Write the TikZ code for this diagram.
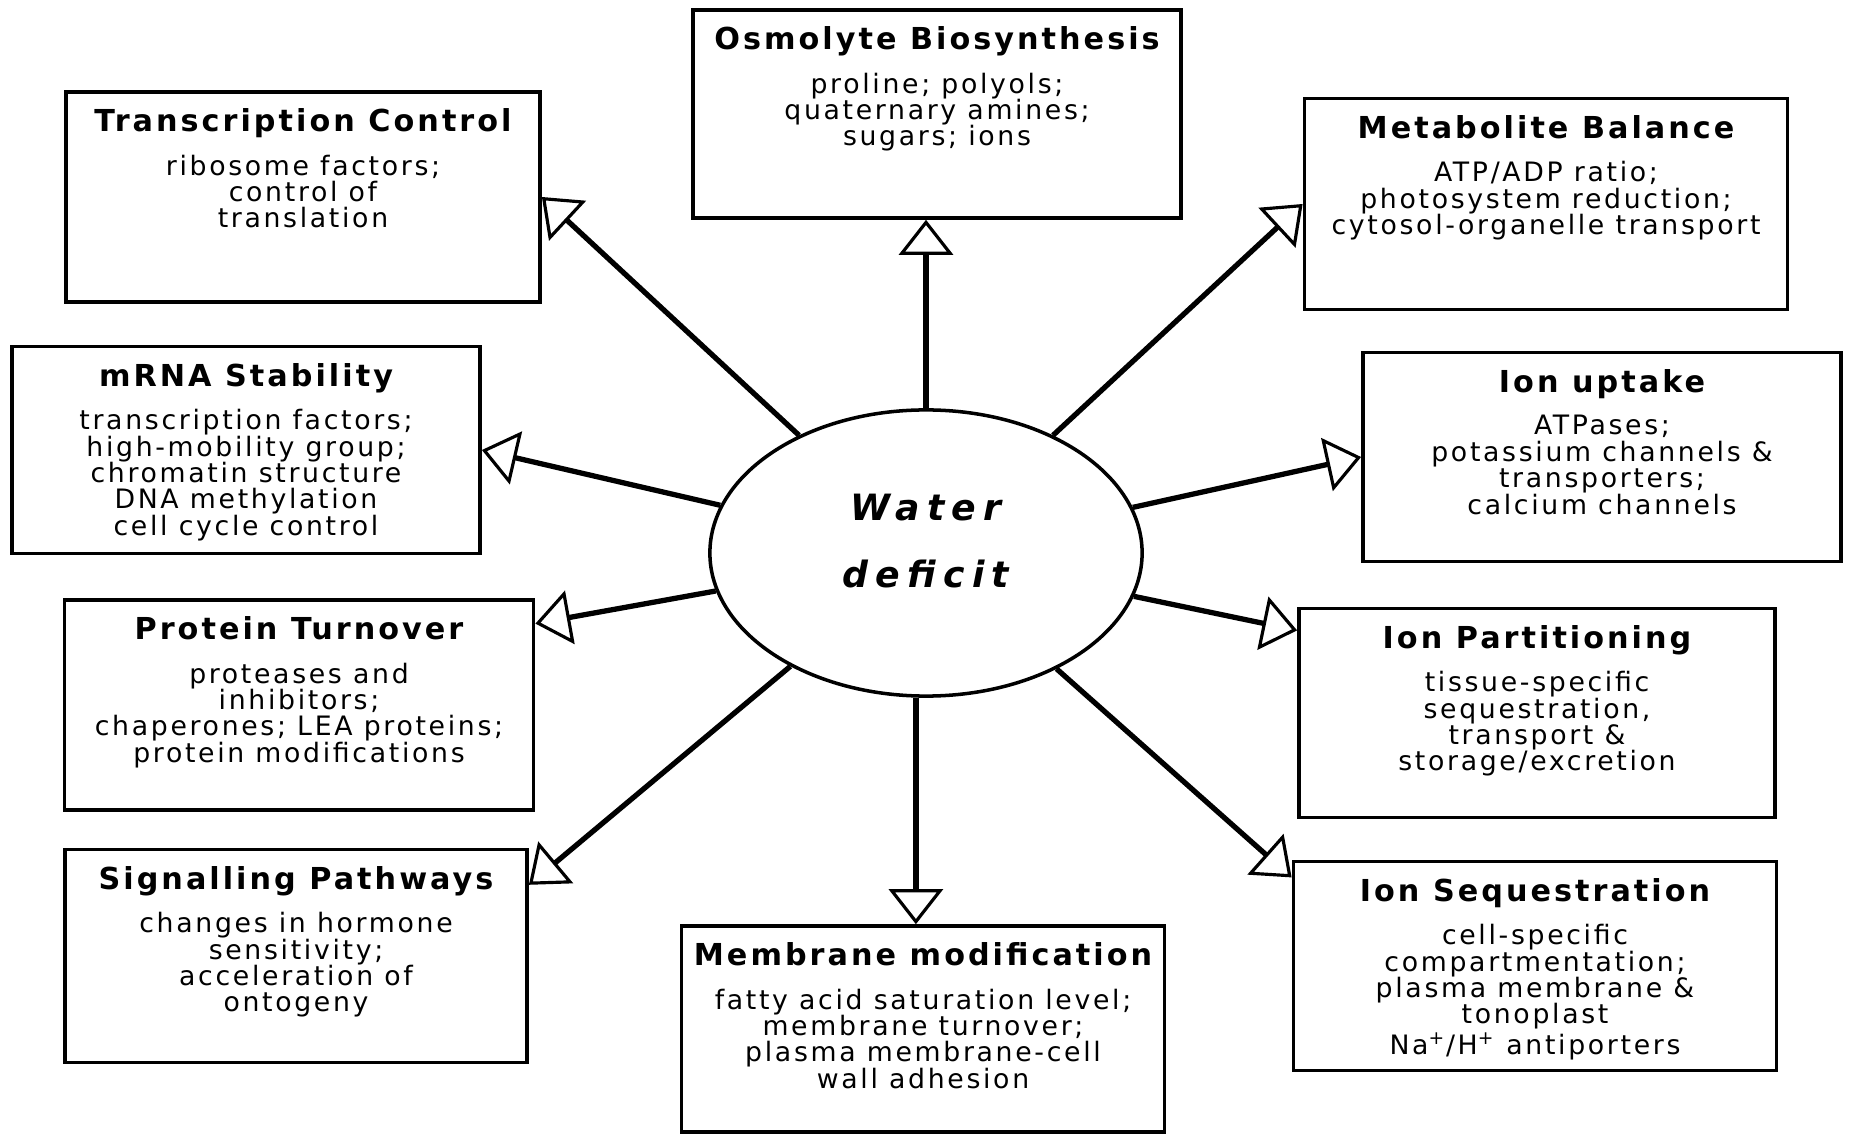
\documentclass[tikz,border=0pt]{standalone}
\usepackage{fontspec}
\setmainfont{DejaVu Sans}
\newfontfamily\boxfont[LetterSpace=10]{DejaVu Sans}
\newfontfamily\waterfont[LetterSpace=20]{DejaVu Sans}
\usetikzlibrary{positioning,arrows.meta,shapes.geometric}
\tikzset{
  effectarrow/.style={-{Triangle[open, length=0.35cm, width=0.54cm, line width=0.9pt]}, line width=1.5pt},
  effectbox/.style={draw, line width=1pt, minimum width=4.78cm, minimum height=2.09cm, inner sep=0pt},
  boxtitle/.style={font=\boxfont\bfseries\fontsize{8.6}{9}\selectfont, inner sep=0pt},
  boxbody/.style={font=\boxfont\fontsize{7.6}{7.5}\selectfont, align=center, inner sep=0pt},
  waternode/.style={draw, ellipse, line width=1pt, minimum width=4.32cm, minimum height=2.86cm, align=center, text depth=0.24cm,
    font=\waterfont\bfseries\itshape\fontsize{10.3}{19}\selectfont}
}

\begin{document}
\begin{tikzpicture}[x=0.01cm, y=-0.01cm]
  \useasboundingbox (0,0) rectangle (1849,1134);

  % centre
  \node[waternode] (water) at (926,553) {Water\\deficit};

  % boxes
  \node[effectbox, minimum width=4.74cm, minimum height=2.10cm] (trans) at (303,197) {};
  \node[effectbox, minimum width=4.88cm, minimum height=2.08cm] (osmo) at (937,114) {};
  \node[effectbox, minimum width=4.83cm, minimum height=2.11cm] (metab) at (1546,204) {};
  \node[effectbox, minimum width=4.68cm, minimum height=2.07cm] (mrna) at (246,450) {};
  \node[effectbox] (ionup) at (1602,457) {};
  \node[effectbox, minimum width=4.69cm, minimum height=2.10cm] (prot) at (299,705) {};
  \node[effectbox, minimum width=4.76cm] (ionpart) at (1537,713) {};
  \node[effectbox, minimum width=4.62cm, minimum height=2.13cm] (signal) at (296,956) {};
  \node[effectbox, minimum width=4.83cm, minimum height=2.06cm] (memb) at (923,1029) {};
  \node[effectbox, minimum width=4.83cm] (ionseq) at (1535,966) {};

  % box texts
  \node[boxtitle, below=0.18cm of trans.north] (trans-title) {Transcription Control};
  \node[boxbody, below=0.64cm of trans.north] (trans-body) {ribosome factors;\\control of\\translation};
  \node[boxtitle, below=0.18cm of osmo.north] (osmo-title) {Osmolyte Biosynthesis};
  \node[boxbody, below=0.64cm of osmo.north] (osmo-body) {proline; polyols;\\quaternary amines;\\sugars; ions};
  \node[boxtitle, below=0.18cm of metab.north] (metab-title) {Metabolite Balance};
  \node[boxbody, below=0.64cm of metab.north] (metab-body) {ATP/ADP ratio;\\photosystem reduction;\\cytosol-organelle transport};
  \node[boxtitle, below=0.18cm of mrna.north] (mrna-title) {mRNA Stability};
  \node[boxbody, below=0.64cm of mrna.north] (mrna-body) {transcription factors;\\high-mobility group;\\chromatin structure\\DNA methylation\\cell cycle control};
  \node[boxtitle, below=0.18cm of ionup.north] (ionup-title) {Ion uptake};
  \node[boxbody, below=0.64cm of ionup.north] (ionup-body) {ATPases;\\potassium channels \&\\transporters;\\calcium channels};
  \node[boxtitle, below=0.18cm of prot.north] (prot-title) {Protein Turnover};
  \node[boxbody, below=0.64cm of prot.north] (prot-body) {proteases and\\inhibitors;\\chaperones; LEA proteins;\\protein modifications};
  \node[boxtitle, below=0.18cm of ionpart.north] (ionpart-title) {Ion Partitioning};
  \node[boxbody, below=0.64cm of ionpart.north] (ionpart-body) {tissue-specific\\sequestration,\\transport \&\\storage/excretion};
  \node[boxtitle, below=0.18cm of signal.north] (signal-title) {Signalling Pathways};
  \node[boxbody, below=0.64cm of signal.north] (signal-body) {changes in hormone\\sensitivity;\\acceleration of\\ontogeny};
  \node[boxtitle, below=0.18cm of memb.north] (memb-title) {Membrane modification};
  \node[boxbody, below=0.64cm of memb.north] (memb-body) {fatty acid saturation level;\\membrane turnover;\\plasma membrane-cell\\wall adhesion};
  \node[boxtitle, below=0.18cm of ionseq.north] (ionseq-title) {Ion Sequestration};
  \node[boxbody, below=0.64cm of ionseq.north] (ionseq-body) {cell-specific\\compartmentation;\\plasma membrane \&\\tonoplast\\Na\textsuperscript{+}/H\textsuperscript{+} antiporters};

  % arrows
  \draw[effectarrow] (water) -- (water |- osmo.south);
  \draw[effectarrow] (water) -- (trans.east);
  \draw[effectarrow] (water) -- (metab.west);
  \draw[effectarrow] (water) -- (mrna.east);
  \draw[effectarrow] (water) -- (ionup.west);
  \draw[effectarrow] (water) -- (prot.19);
  \draw[effectarrow] (water) -- (ionpart.161);
  \draw[effectarrow] (water) -- (signal.17);
  \draw[effectarrow] (water) -- (ionseq.160);
  \draw[effectarrow] (water.-94) -- (water.-94 |- memb.north);
\end{tikzpicture}
\end{document}
